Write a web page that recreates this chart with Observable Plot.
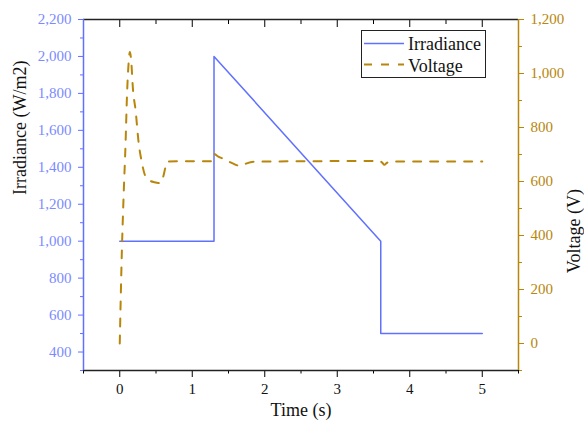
<!DOCTYPE html>
<html><head><meta charset="utf-8">
<script src="https://cdn.jsdelivr.net/npm/d3@7"></script>
<script src="https://cdn.jsdelivr.net/npm/@observablehq/plot@0.6"></script>
<style>
body{margin:0;background:#fff}
#chart{width:584px;height:423px}
#chart svg, #chart svg text{font-family:"Liberation Serif","Times New Roman",serif !important}
</style>
</head><body><div id="chart"></div>
<script>
// ---- data ----
const irrTime  = [0, 1.3, 1.3, 3.6, 3.6, 5];
const irrValue = [1000, 1000, 2000, 1000, 500, 500];
const voltTime  = [0, 0.03, 0.055, 0.08, 0.1, 0.12, 0.14, 0.16, 0.18, 0.22, 0.26, 0.3, 0.35, 0.4, 0.48, 0.56, 0.6, 0.63, 0.66, 1.0, 1.26, 1.3, 1.36, 1.45, 1.55, 1.66, 1.72, 1.85, 2.5, 3.58, 3.62, 3.65, 3.68, 3.72, 5.0];
const voltValue = [0, 350, 560, 740, 920, 1030, 1080, 1040, 950, 860, 745, 677, 622, 606, 597, 594, 618, 652, 674, 675, 675, 702, 692, 682, 668, 658, 664, 673, 675, 676, 670, 662, 668, 674, 674];
const xMajor = [0, 1, 2, 3, 4, 5];
const xMinor = [-0.5, 0.5, 1.5, 2.5, 3.5, 4.5, 5.5];
const irrMajor = [400, 600, 800, 1000, 1200, 1400, 1600, 1800, 2000, 2200];
const irrMinor = [300, 500, 700, 900, 1100, 1300, 1500, 1700, 1900, 2100];
const voltMajor = [0, 200, 400, 600, 800, 1000, 1200];
const voltMinor = [-100, 100, 300, 500, 700, 900, 1100];
const xDomain = [-0.5, 5.5];
const irrDomain = [300, 2200];
const voltDomain = [-100, 1200];
const seriesNames = ["Irradiance", "Voltage"];

// ---- styles ----
const blue = "#6070ff", blueText = "#7b8bff", gold = "#b8860b";

const irr = irrTime.map((t, i) => ({t, v: irrValue[i]}));
const volt = voltTime.map((t, i) => ({t, v: voltValue[i]}));
const v2y = d3.scaleLinear(voltDomain, irrDomain);
const fmt = d3.format(",");

const chart = Plot.plot({
  width: 584, height: 423,
  marginLeft: 83, marginRight: 66, marginTop: 19, marginBottom: 53,
  style: {fontSize: "15px", background: "#fff", overflow: "visible"},
  x: {domain: xDomain, axis: null},
  y: {domain: irrDomain, axis: null},
  marks: [
    Plot.axisX(xMajor, {anchor: "bottom", tickSize: 7, tickPadding: 6, fontSize: 15, fontVariant: "normal", tickFormat: d => d, label: null, fill: "#111"}),
    Plot.axisX(xMinor, {anchor: "bottom", tickSize: 3.5, fill: "none", label: null}),
    Plot.axisX(xMajor, {anchor: "top", tickSize: -7, fill: "none", label: null}),
    Plot.axisX(xMinor, {anchor: "top", tickSize: -4, fill: "none", label: null}),
    Plot.axisY(irrMajor, {anchor: "left", tickSize: 5, tickPadding: 7, stroke: blue, fill: blueText, fontSize: 15, fontVariant: "normal", tickFormat: fmt, label: null}),
    Plot.axisY(irrMinor, {anchor: "left", tickSize: 3, stroke: blue, fill: "none", label: null}),
    Plot.axisY(voltMajor.map(v2y), {anchor: "right", tickSize: 5, tickPadding: 7, stroke: gold, fill: gold, fontSize: 15, fontVariant: "normal", tickFormat: d => fmt(Math.round(v2y.invert(d))), label: null}),
    Plot.axisY(voltMinor.map(v2y), {anchor: "right", tickSize: 3, stroke: gold, fill: "none", label: null}),
    Plot.ruleY([irrDomain[0], irrDomain[1]], {stroke: "#222", strokeWidth: 1.5}),
    Plot.ruleX([xDomain[0]], {stroke: blue, strokeWidth: 1.5}),
    Plot.ruleX([xDomain[1]], {stroke: gold, strokeWidth: 1.5}),
    Plot.line(irr, {x: "t", y: "v", stroke: blue, strokeWidth: 1.5}),
    Plot.line(volt, {x: "t", y: d => v2y(d.v), stroke: gold, strokeWidth: 2, strokeDasharray: "8,9", curve: "monotone-x"}),
    Plot.text(["Irradiance (W/m2)"], {text: d => d, frameAnchor: "left", dx: -63, rotate: -90, fontSize: 18, fill: "#111"}),
    Plot.text(["Voltage (V)"], {text: d => d, frameAnchor: "right", dx: 56, dy: -6, rotate: -90, fontSize: 18, fill: "#111"}),
    Plot.text(["Time (s)"], {text: d => d, frameAnchor: "bottom", dy: 45, fontSize: 18, fill: "#111"})
  ]
});
document.getElementById("chart").appendChild(chart);

// legend (inside the frame, top right)
const svg = d3.select(chart);
const lg = svg.append("g").attr("font-size", 18).attr("text-anchor", "start");
lg.append("rect").attr("x", 361.5).attr("y", 30.5).attr("width", 124).attr("height", 47)
  .attr("fill", "#fff").attr("stroke", "#222").attr("stroke-width", 1);
lg.append("line").attr("x1", 364).attr("x2", 404).attr("y1", 43.5).attr("y2", 43.5)
  .attr("stroke", blue).attr("stroke-width", 1.5);
lg.append("line").attr("x1", 364).attr("x2", 404).attr("y1", 64.5).attr("y2", 64.5)
  .attr("stroke", gold).attr("stroke-width", 2).attr("stroke-dasharray", "8,9");
lg.append("text").attr("x", 408).attr("y", 50).attr("fill", "#111").style("text-anchor", "start").text(seriesNames[0]);
lg.append("text").attr("x", 408).attr("y", 72).attr("fill", "#111").style("text-anchor", "start").text(seriesNames[1]);
</script></body></html>
